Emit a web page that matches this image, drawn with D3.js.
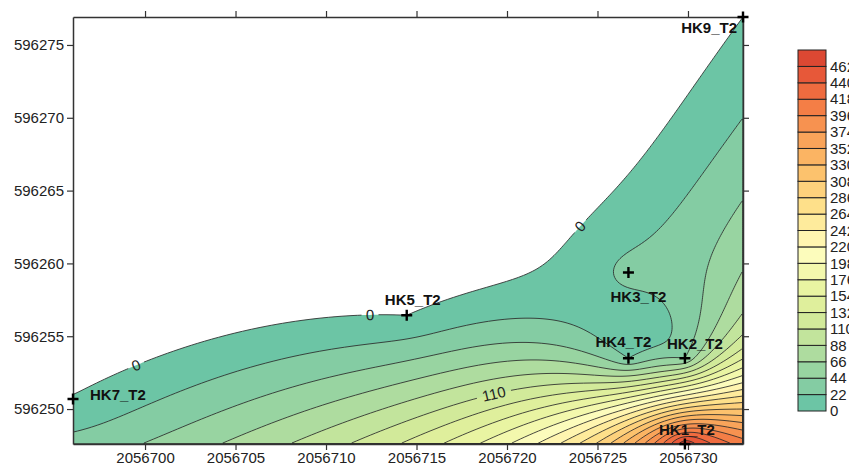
<!DOCTYPE html>
<html><head><meta charset="utf-8">
<script src="https://cdn.jsdelivr.net/npm/d3@7"></script>
<style>
body{margin:0;background:#fff}
text{font-family:Arial,"Liberation Sans",sans-serif}
</style>
</head><body>
<svg id="chart" width="849" height="466"></svg>
<script>
// ---- data ----
const wellNames = ["HK1_T2","HK2_T2","HK3_T2","HK4_T2","HK5_T2","HK7_T2","HK9_T2"];
const wellX = [2056729.83, 2056729.83, 2056726.71, 2056726.71, 2056714.46, 2056696.02, 2056733.04];
const wellY = [596247.60, 596253.49, 596259.38, 596253.49, 596256.44, 596250.69, 596276.92];
const wellValue = [480, 44, 30, 22, 0, 1.5, 0];
const levels = [0,22,44,66,88,110,132,154,176,198,220,242,264,286,308,330,352,374,396,418,440,462];
const levelColors = ["#6cc5a5","#84cca3","#98d4a1","#aedc9f","#c2e49c","#d2ea9a","#dfef9c","#e9f4a2",
  "#f3f8ad","#fcfcbc","#fff5b0","#feeb9c","#fee08a","#fdd17c","#fcc26d","#fbb463","#f9a45a",
  "#f79250","#f47e46","#ef6b3f","#e75839","#dc4833"];
const xTicks = [2056700,2056705,2056710,2056715,2056720,2056725,2056730];
const yTicks = [596250,596255,596260,596265,596270,596275];
const contourLabelLevel = [0, 0, 0, 110];
const contourLabelX = [2056699.45, 2056712.43, 2056723.4, 2056719.3];
const contourLabelY = [596253.2, 596256.5, 596263.3, 596250.9];
// well-name label offsets from the marker (layout only)
const wellLabelDx = [2, 10, 10, -5, 6, 17, -6];
const wellLabelDy = [-9, -9, 30, -11, -10, 1, 16];
const wellLabelAnchor = ["middle","middle","middle","middle","middle","start","end"];

// ---- layout ----
const svg = d3.select("#chart");
const L = 73, R = 743, T = 17, B = 444;
const x = d3.scaleLinear().domain(d3.extent(wellX)).range([L, R]);
const y = d3.scaleLinear().domain(d3.extent(wellY)).range([B, T]);

// ---- ordinary kriging (linear variogram) ----
const n = wellX.length;
const A = [];
for (let i = 0; i <= n; i++) {
  A.push([]);
  for (let j = 0; j <= n; j++) {
    if (i < n && j < n) A[i].push(-Math.hypot(wellX[i]-wellX[j], wellY[i]-wellY[j]));
    else if (i === n && j === n) A[i].push(0);
    else A[i].push(1);
  }
}
const rhs = wellValue.concat([0]);
function solve(M, b) {
  const m = M.length, a = M.map((r, i) => r.concat([b[i]]));
  for (let c = 0; c < m; c++) {
    let p = c;
    for (let r = c+1; r < m; r++) if (Math.abs(a[r][c]) > Math.abs(a[p][c])) p = r;
    [a[c], a[p]] = [a[p], a[c]];
    for (let r = 0; r < m; r++) if (r !== c) {
      const f = a[r][c] / a[c][c];
      for (let k = c; k <= m; k++) a[r][k] -= f * a[c][k];
    }
  }
  return a.map((r, i) => r[m] / r[i]);
}
const w = solve(A, rhs);
function field(px, py) {
  let s = w[n];
  for (let i = 0; i < n; i++) s -= w[i] * Math.hypot(px - wellX[i], py - wellY[i]);
  return s;
}
const fieldPx = (sx, sy) => field(x.invert(sx), y.invert(sy));

// ---- grid ----
const nx = 335, ny = 214;
const cw = (R - L) / nx, ch = (B - T) / ny;
const values = new Float64Array(nx * ny);
for (let j = 0; j < ny; j++) for (let i = 0; i < nx; i++)
  values[j*nx + i] = fieldPx(L + (i + 0.5) * cw, T + (j + 0.5) * ch);

const contours = d3.contours().size([nx, ny]).thresholds(levels)(values);
const path = d3.geoPath(d3.geoTransform({
  point(px, py) { this.stream.point(L + px * cw, T + py * ch); }
}));

const defs = svg.append("defs");
defs.append("clipPath").attr("id", "clip").append("rect")
  .attr("x", L).attr("y", T).attr("width", R - L).attr("height", B - T);

const plot = svg.append("g").attr("clip-path", "url(#clip)");
plot.selectAll("path.fill").data(contours).join("path")
  .attr("class", "fill")
  .attr("d", path)
  .attr("fill", (d, i) => levelColors[i])
  .attr("stroke", "none");

// contour labels: snap to contour along gradient
const labels = contourLabelLevel.map((lev, k) => {
  let sx = x(contourLabelX[k]), sy = y(contourLabelY[k]);
  for (let it = 0; it < 30; it++) {
    const f = fieldPx(sx, sy) - lev;
    const gx = (fieldPx(sx + 0.5, sy) - fieldPx(sx - 0.5, sy));
    const gy = (fieldPx(sx, sy + 0.5) - fieldPx(sx, sy - 0.5));
    const g2 = gx*gx + gy*gy;
    if (g2 < 1e-9) break;
    sx -= f * gx / g2; sy -= f * gy / g2;
  }
  const gx = (fieldPx(sx + 0.5, sy) - fieldPx(sx - 0.5, sy));
  const gy = (fieldPx(sx, sy + 0.5) - fieldPx(sx, sy - 0.5));
  let ang = Math.atan2(gx, -gy) * 180 / Math.PI; // tangent direction
  if (ang > 90) ang -= 180; if (ang < -90) ang += 180;
  return {lev, sx, sy, ang, text: String(lev)};
});

const mask = defs.append("mask").attr("id", "lblmask");
mask.append("rect").attr("x", 0).attr("y", 0).attr("width", 849).attr("height", 466).attr("fill", "#fff");
labels.forEach(l => {
  const wdt = l.text.length * 9 + 8;
  mask.append("rect").attr("x", -wdt/2).attr("y", -7).attr("width", wdt).attr("height", 14)
    .attr("fill", "#000")
    .attr("transform", `translate(${l.sx},${l.sy}) rotate(${l.ang})`);
});

plot.append("g").attr("mask", "url(#lblmask)")
  .selectAll("path").data(contours).join("path")
  .attr("d", path)
  .attr("fill", "none")
  .attr("stroke", "#2b2b2b")
  .attr("stroke-width", 0.85);

plot.selectAll("text.clabel").data(labels).join("text")
  .attr("class", "clabel")
  .attr("transform", d => `translate(${d.sx},${d.sy}) rotate(${d.ang})`)
  .attr("text-anchor", "middle").attr("dy", "0.35em")
  .attr("font-size", 15).attr("fill", "#222")
  .text(d => d.text);

// ---- axes ----
const fmt = d3.format("d");
function styleAxis(g) {
  g.selectAll("path.domain").attr("stroke", "#333").attr("stroke-width", 1.5);
  g.selectAll(".tick line").attr("stroke", "#333").attr("stroke-width", 1.2);
  g.selectAll(".tick text").attr("font-size", 15).attr("fill", "#222")
    .attr("font-family", "Arial, 'Liberation Sans', sans-serif");
}
svg.append("g").attr("transform", `translate(0,${B})`)
  .call(d3.axisBottom(x).tickValues(xTicks).tickFormat(fmt).tickSize(6).tickSizeOuter(0).tickPadding(2))
  .call(styleAxis);
svg.append("g").attr("transform", `translate(0,${T})`)
  .call(d3.axisTop(x).tickValues(xTicks).tickFormat("").tickSize(6).tickSizeOuter(0))
  .call(styleAxis);
svg.append("g").attr("transform", `translate(${L},0)`)
  .call(d3.axisLeft(y).tickValues(yTicks).tickFormat(fmt).tickSize(6).tickSizeOuter(0).tickPadding(3))
  .call(styleAxis);
svg.append("g").attr("transform", `translate(${R},0)`)
  .call(d3.axisRight(y).tickValues(yTicks).tickFormat("").tickSize(6).tickSizeOuter(0))
  .call(styleAxis);

// ---- wells ----
const wg = svg.append("g");
wellNames.forEach((name, i) => {
  const sx = x(wellX[i]), sy = y(wellY[i]);
  wg.append("path")
    .attr("d", `M${sx-5.5},${sy}H${sx+5.5}M${sx},${sy-5.5}V${sy+5.5}`)
    .attr("stroke", "#000").attr("stroke-width", 2.4);
  wg.append("text").attr("x", sx + wellLabelDx[i]).attr("y", sy + wellLabelDy[i])
    .attr("text-anchor", wellLabelAnchor[i])
    .attr("font-size", 15).attr("font-weight", "bold").attr("fill", "#111").text(name);
});

// ---- legend ----
const lgX = 798, lgW = 28, lgTop = 50, lgBot = 411;
const lgY = d3.scaleBand().domain(d3.range(levels.length).reverse()).range([lgTop, lgBot]);
const lg = svg.append("g");
lg.selectAll("rect").data(levels.map((v, i) => i)).join("rect")
  .attr("x", lgX).attr("y", i => lgY(i)).attr("width", lgW).attr("height", lgY.bandwidth())
  .attr("fill", i => levelColors[i]).attr("stroke", "#222").attr("stroke-width", 1);
lg.selectAll("text").data(levels.map((v, i) => i)).join("text")
  .attr("x", lgX + lgW + 4).attr("y", i => lgY(i) + lgY.bandwidth()).attr("dy", "0.35em")
  .attr("font-size", 15).attr("fill", "#222").text(i => levels[i]);
</script>
</body></html>
